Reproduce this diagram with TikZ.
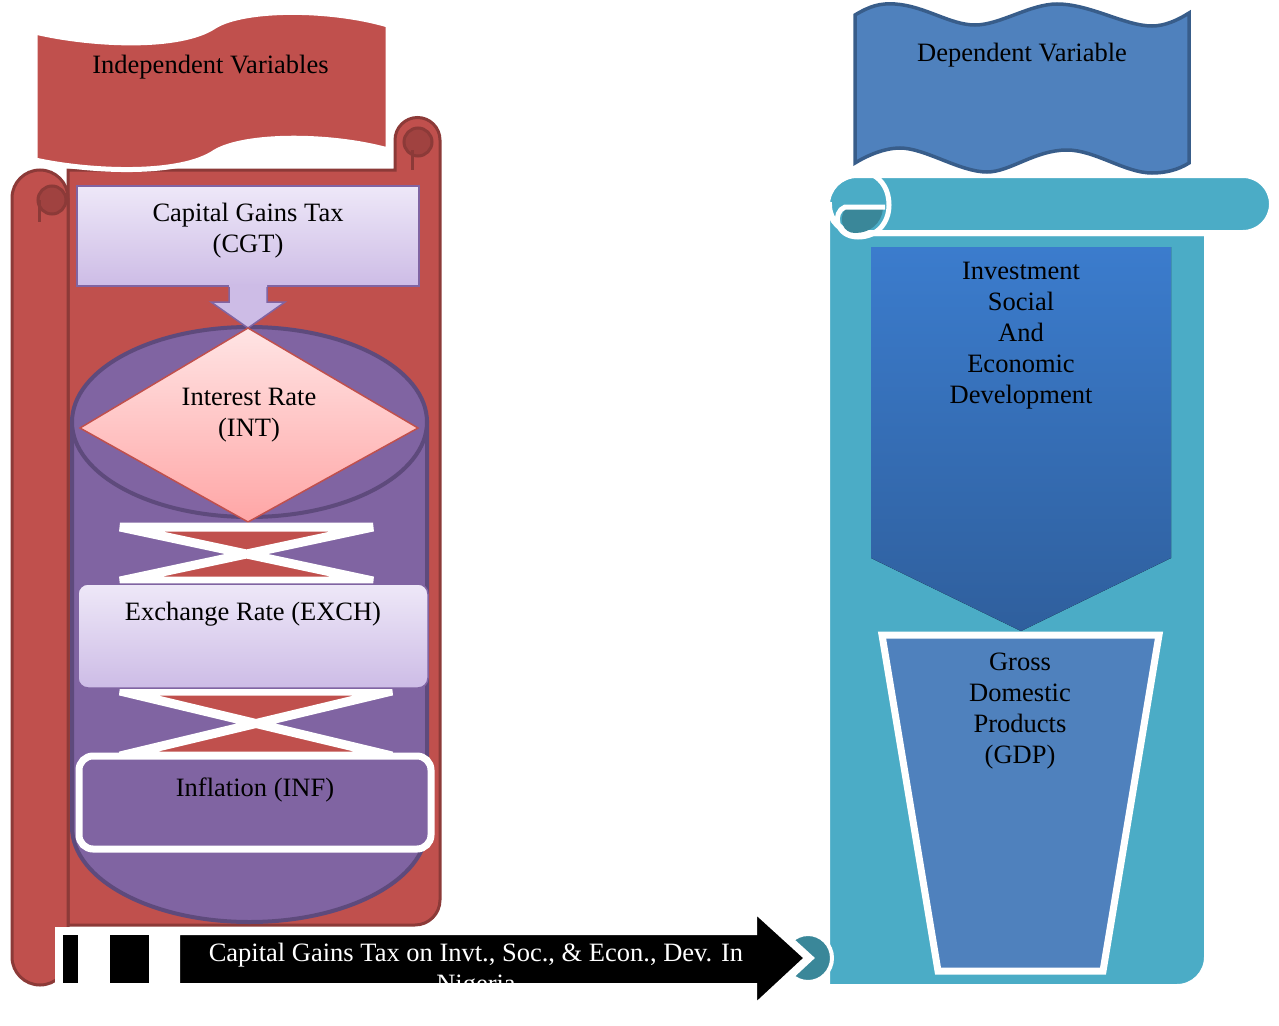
\documentclass[tikz,border=0pt]{standalone}
\usepackage{fontspec}
\setmainfont{Liberation Serif}
\definecolor{scrollred}{HTML}{C0504D}
\definecolor{scrolldark}{HTML}{8C3A38}
\definecolor{curlred}{HTML}{A04240}
\definecolor{cylpurple}{HTML}{8064A2}
\definecolor{cyldark}{HTML}{5E4A7C}
\definecolor{lavtop}{HTML}{EEE8F8}
\definecolor{lavbot}{HTML}{CDBCE6}
\definecolor{pinktop}{HTML}{FFE4E4}
\definecolor{pinkbot}{HTML}{FFA6A6}
\definecolor{scrollteal}{HTML}{4BACC6}
\definecolor{tealdark}{HTML}{3A8799}
\definecolor{bannerblue}{HTML}{4F81BD}
\definecolor{bannerdark}{HTML}{385D8A}
\definecolor{chevtop}{HTML}{3B7CCD}
\definecolor{chevbot}{HTML}{2F5F9D}
\tikzset{
  txt/.style={font=\fontsize{26.5}{31}\selectfont, align=center, inner sep=0pt, anchor=north},
  redpart/.style={fill=scrollred, draw=scrolldark, line width=3},
  lavbox/.style={top color=lavtop, bottom color=lavbot, draw=cylpurple, line width=1.5},
  collate/.style={fill=scrollred, draw=white, line width=9, line join=bevel},
  whiteedge/.style={draw=white, line width=6},
  blackbar/.style={fill=black, draw=white, line width=8}
}
\begin{document}
\begin{tikzpicture}[x=1pt,y=-1pt]
  \useasboundingbox (0,0) rectangle (1279,1025);

  \filldraw[redpart] (68,170) -- (395,170) -- (395,140) arc[start angle=180, end angle=360, radius=22.5]
    -- (440,900) arc[start angle=0, end angle=90, radius=25] -- (68,925) -- cycle;
  \filldraw[redpart] (12,957) -- (12,198) arc[start angle=180, end angle=360, radius=28]
    -- (68,957) arc[start angle=0, end angle=180, radius=28] -- cycle;
  \filldraw[fill=curlred, draw=scrolldark, line width=3] (52,200) circle (14);
  \draw[scrolldark, line width=3] (39,200) -- (39,222);
  \filldraw[fill=curlred, draw=scrolldark, line width=3] (418,142) circle (14);
  \draw[scrolldark, line width=3] (412,150) -- (412,170);

  \filldraw[fill=scrollred, draw=white, line width=5]
    (35,32) .. controls (90,45) and (180,50) .. (215,26) .. controls (245,8) and (330,8) .. (388,25)
    -- (388,150) .. controls (330,134) and (245,134) .. (215,152) .. controls (180,176) and (90,172) .. (35,160) -- cycle;

  \filldraw[fill=cylpurple, draw=cyldark, line width=4] (72,422) -- (72,827)
    arc[start angle=180, end angle=0, x radius=177.5, y radius=95] -- (427,422) -- cycle;
  \filldraw[fill=cylpurple, draw=cyldark, line width=4] (249.5,422) ellipse [x radius=177.5, y radius=95];

  \filldraw[lavbox] (77,186) rectangle (419,286);
  \fill[lavbot] (229,284) -- (229,302) -- (211,302) -- (248,328) -- (285,302) -- (267,302) -- (267,284) -- cycle;
  \draw[cylpurple, line width=1.5] (229,287) -- (229,302) -- (211,302) -- (248,328) -- (285,302) -- (267,302) -- (267,287);

  \filldraw[top color=pinktop, bottom color=pinkbot, draw=scrollred, line width=1.5]
    (248,328) -- (418,428) -- (248,522) -- (80,428) -- cycle;

  \filldraw[collate] (120,527) -- (373,527) -- (120,581) -- (373,581) -- cycle;
  \filldraw[collate] (120,691) -- (392,691) -- (120,756) -- (392,756) -- cycle;

  \filldraw[lavbox, rounded corners=10] (78,584) rectangle (428,688);
  \filldraw[fill=cylpurple, draw=white, line width=7, rounded corners=14] (79,756) rectangle (431,849);

  \node[txt] (indep) at (210.5,55) {Independent Variables};
  \node[txt] (cgt) at (248,203) {Capital Gains Tax\\(CGT)};
  \node[txt] (int) at (249,388) {Interest Rate\\(INT)};
  \node[txt] (exch) at (253,602) {Exchange Rate (EXCH)};
  \node[txt] (inf) at (255,778) {Inflation (INF)};

  \filldraw[fill=scrollteal, whiteedge] (827,205) -- (827,987) -- (1177,987)
    arc[start angle=90, end angle=0, radius=30] -- (1207,233) -- (857,233) -- cycle;
  \filldraw[fill=scrollteal, whiteedge] (827,205) arc[start angle=180, end angle=270, radius=30]
    -- (1243,175) arc[start angle=270, end angle=450, radius=29] -- (857,233)
    arc[start angle=90, end angle=180, radius=28] -- cycle;
  \fill[tealdark] (845,209) -- (883,209) .. controls (881,224) and (870,233) .. (855,233)
    .. controls (843,233) and (838,220) .. (845,209) -- cycle;
  \draw[white, line width=5] (885,207) -- (845,207) .. controls (832,212) and (835,237) .. (858,237)
    .. controls (878,237) and (889,222) .. (889,205) .. controls (889,190) and (882,180) .. (873,175);
  \filldraw[fill=tealdark, draw=white, line width=4] (808,958) circle (24);

  \filldraw[fill=bannerblue, draw=bannerdark, line width=3.5]
    (855,15) .. controls (870,6) and (880,3) .. (895,4) .. controls (925,6) and (950,25) .. (975,25)
    .. controls (1000,25) and (1030,4) .. (1057,4) .. controls (1090,4) and (1125,26) .. (1152,26)
    .. controls (1165,26) and (1178,20) .. (1189,13) -- (1189,163)
    .. controls (1178,170) and (1165,173) .. (1152,173) .. controls (1125,173) and (1095,150) .. (1067,150)
    .. controls (1035,150) and (1010,172) .. (987,172) .. controls (960,172) and (925,148) .. (900,148)
    .. controls (885,148) and (868,155) .. (855,163) -- cycle;

  \fill[top color=chevtop, bottom color=chevbot]
    (871,247) -- (1171,247) -- (1171,558) -- (1021,631) -- (871,558) -- cycle;
  \filldraw[fill=bannerblue, draw=white, line width=7] (882,635) -- (1159,635) -- (1103,971) -- (938,971) -- cycle;

  \node[txt] (dep) at (1022,43) {Dependent Variable};
  \node[txt] (invest) at (1021,262) {Investment\\Social\\And\\Economic\\Development};
  \node[txt] (gdp) at (1020,653) {Gross\\Domestic\\Products\\(GDP)};

  \filldraw[blackbar] (59,931) rectangle (82,987);
  \filldraw[blackbar] (106,931) rectangle (153,987);
  \filldraw[blackbar] (176,931) -- (753,931) -- (753,907) -- (809,958) -- (753,1010) -- (753,987) -- (176,987) -- cycle;
  \begin{scope}
    \clip (180,935) rectangle (757,983);
    \node[txt, text=white] (caption) at (476,943) {Capital Gains Tax on Invt., Soc., \& Econ., Dev. In\\Nigeria};
  \end{scope}
\end{tikzpicture}
\end{document}
